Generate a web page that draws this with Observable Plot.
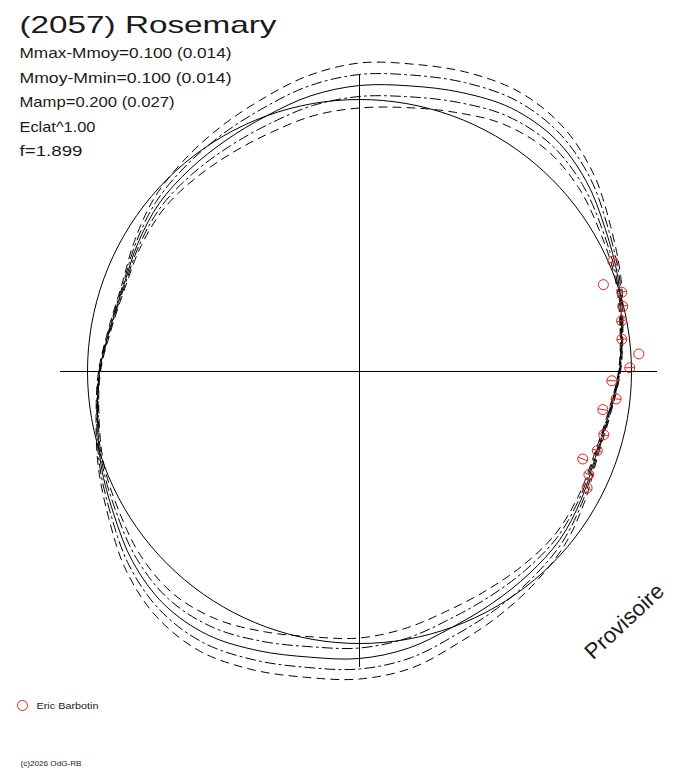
<!DOCTYPE html>
<html><head><meta charset="utf-8">
<script src="https://cdn.jsdelivr.net/npm/d3@7"></script>
<script src="https://cdn.jsdelivr.net/npm/@observablehq/plot@0.6"></script>
<style>body{margin:0;background:#fff}</style>
</head><body><div id="chart"></div>
<script>
// ---- text ----
const title = "(2057) Rosemary";
const statLines = ["Mmax-Mmoy=0.100 (0.014)", "Mmoy-Mmin=0.100 (0.014)", "Mamp=0.200 (0.027)", "Eclat^1.00", "f=1.899"];
const observer = "Eric Barbotin";
const copyright = "(c)2026 OdG-RB";
const watermark = "Provisoire";

// ---- model light curve in polar form (angle = phase, radius = brightness) ----
const angleDeg = [0,10,20,30,40,50,60,70,80,90,100,110,120,130,140,150,160,170,
                  180,190,200,210,220,230,240,250,260,270,280,290,300,310,320,330,340,350];
const modelR = [260,266,275,284,296,304,304,297,290,286,280,272,267,264,261.5,256,251,253,
                260,266,275,284,296,304,304,297,290,287,281,272,267,264,261.5,256,251,253];
const sigma1 = [0.5,0.8,1.5,3,5,7,9,10.5,11,11,10,8.5,7,5.2,3.5,2,1,0.7,
                0.5,0.8,1.5,3,5,7,9,10,10.5,10.5,10,8.5,7,5.2,3.5,2,1,0.7];
const sigma2 = [1,1.5,3,6,10,14,18,21,22,22.5,20,17,14,10.5,7,4,2,1.4,
                1,1.5,3,6,10,14,18,20,20.5,20.5,20,17,14,10.5,7,4,2,1.4];
const meanR = 272;
const axisX = [-299, 298];
const axisY = [-296, 297];

// ---- observations ----
const ptAngle = [23.5,19.6,16.8,13.9,10.95,7.0,3.6,0.8,357.9,353.9,351.1,345.5,341.6,338.6,335.8,332.9];
const ptR     = [276.2,258.9,274.0,271.2,266.9,264.3,279.9,270.3,252.5,258.1,246.3,252.3,250.6,239.8,251.5,255.7];
const ptErr   = [5,0,5,5,5,5,0,5,5,5,5,5,5,5,5,5];

const rad = a => a * Math.PI / 180;
const polar = rs => angleDeg.map((a, i) => ({x: rs[i] * Math.cos(rad(a)), y: rs[i] * Math.sin(rad(a))}));
const circleData = polar(angleDeg.map(() => meanR));
const modelData = polar(modelR);
const up1 = polar(modelR.map((r, i) => r + sigma1[i]));
const lo1 = polar(modelR.map((r, i) => r - sigma1[i]));
const up2 = polar(modelR.map((r, i) => r + sigma2[i]));
const lo2 = polar(modelR.map((r, i) => r - sigma2[i]));
const pts = ptAngle.map((a, i) => {
  const c = Math.cos(rad(a)), s = Math.sin(rad(a));
  return {x: ptR[i]*c, y: ptR[i]*s,
          x1: (ptR[i]-ptErr[i])*c, y1: (ptR[i]-ptErr[i])*s,
          x2: (ptR[i]+ptErr[i])*c, y2: (ptR[i]+ptErr[i])*s};
});

const red = "#e2231a";
const ink = "#1a1a1a";
const line = (data, dash) => Plot.line(data, {x: "x", y: "y", curve: "catmull-rom-closed", stroke: "black", strokeWidth: 1, strokeDasharray: dash});
const label = (t, dx, dy, size) => Plot.text([t], {text: d => d, frameAnchor: "top-left", textAnchor: "start", lineAnchor: "bottom", dx, dy, fontSize: size, fill: ink});

const svg = Plot.plot({
  width: 688, height: 768, margin: 0,
  x: {domain: [-359, 329], axis: null},
  y: {domain: [-397, 371], axis: null},
  style: {background: "white", fontFamily: "'Liberation Sans', Arial, sans-serif"},
  marks: [
    Plot.ruleY([0], {x1: () => axisX[0], x2: () => axisX[1], stroke: "black", strokeWidth: 1}),
    Plot.ruleX([0], {y1: () => axisY[0], y2: () => axisY[1], stroke: "black", strokeWidth: 1}),
    line(circleData, null),
    line(up2, "8,6"), line(lo2, "8,6"),
    line(up1, "10,4,2,4"), line(lo1, "10,4,2,4"),
    line(modelData, null),
    Plot.link(pts.filter((d, i) => ptErr[i] > 0), {x1: "x1", y1: "y1", x2: "x2", y2: "y2", stroke: red, strokeWidth: 1}),
    Plot.dot(pts, {x: "x", y: "y", r: 5, stroke: red, strokeWidth: 1, fill: "none"}),
    label(title, 19, 32, 24),
    ...statLines.map((t, i) => label(t, 19, [57, 82, 106.5, 131, 155.5][i], 15)),
    Plot.dot([observer], {frameAnchor: "top-left", dx: 22, dy: 705, r: 5, stroke: red, strokeWidth: 1, fill: "none"}),
    label(observer, 36, 708.5, 9),
    label(copyright, 20, 765, 8),
    Plot.text([watermark], {text: d => d, frameAnchor: "top-left", dx: 624, dy: 621, rotate: -43, textAnchor: "middle", lineAnchor: "middle", fontSize: 22, fill: ink})
  ]
});

const widths = new Map([[title, 257], [statLines[0], 212], [statLines[1], 212], [statLines[2], 155], [statLines[3], 76], [statLines[4], 63], [observer, 62], [copyright, 61], [watermark, 99]]);
d3.select(svg).selectAll("text").each(function() {
  const w = widths.get(this.textContent);
  if (w) d3.select(this).attr("textLength", w).attr("lengthAdjust", "spacingAndGlyphs");
});
document.getElementById("chart").appendChild(svg);
</script>
</body></html>
